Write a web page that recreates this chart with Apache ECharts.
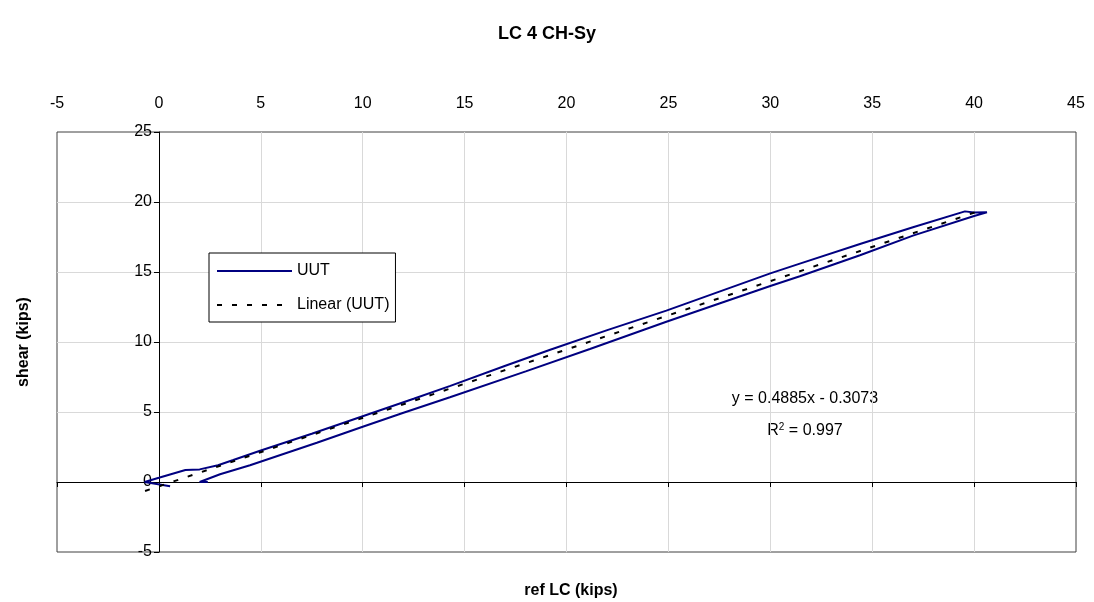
<!DOCTYPE html>
<html>
<head>
<meta charset="utf-8">
<script src="https://cdn.jsdelivr.net/npm/echarts@6/dist/echarts.min.js"></script>
<style>html,body{margin:0;padding:0;background:#fff;}#c{width:1094px;height:602px;}</style>
</head>
<body>
<div id="c"></div>
<script>
// UUT loop: start tail, upper branch up to tip, lower branch back down
var uutX = [0.55, -0.7, 0.0, 1.3, 2.0, 2.9, 3.65, 5.0, 7.5, 10.0, 12.5, 14.3, 17.0, 19.2, 22.0, 24.9, 27.5, 30.0, 31.45, 34.4, 37.0, 39.55, 40.0, 40.63,
            40.0, 37.0, 34.4, 31.45, 30.0, 27.5, 24.9, 21.15, 18.0, 14.28, 12.0, 10.0, 7.75, 6.0, 4.47, 3.0, 2.0, 2.4];
var uutY = [-0.3, 0.0, 0.3, 0.86, 0.9, 1.2, 1.57, 2.25, 3.45, 4.7, 5.95, 6.87, 8.3, 9.45, 10.85, 12.24, 13.6, 14.9, 15.6, 17.0, 18.2, 19.33, 19.25, 19.26,
            19.0, 17.6, 16.2, 14.7, 14.0, 12.75, 11.45, 9.5, 7.9, 6.05, 4.95, 3.95, 2.8, 1.95, 1.2, 0.55, 0.0, 0.0];
var trendX = [-0.68, 40.3];
var trendY = [-0.64, 19.38];
var xTicks = [-5, 45, 5];
var yTicks = [-5, 25, 5];
var eqText = 'y = 0.4885x - 0.3073';
var r2Value = '0.997';

function pairs(xs, ys) { return xs.map(function (x, i) { return [x, ys[i]]; }); }

var chart = echarts.init(document.getElementById('c'));
var font = 'Liberation Sans, Arial, sans-serif';
chart.setOption({
  animation: false,
  backgroundColor: '#fff',
  textStyle: { fontFamily: font },
  title: [{
    text: 'LC 4 CH-Sy', left: 'center', top: 20,
    textStyle: { fontSize: 18, fontWeight: 'bold', color: '#000', fontFamily: font }
  }, {
    text: 'ref LC (kips)', left: 566, top: 578, textAlign: 'center',
    textStyle: { fontSize: 16, fontWeight: 'bold', color: '#000', fontFamily: font }
  }],
  graphic: [{
    type: 'text', x: 24, y: 342, rotation: Math.PI / 2,
    style: { text: 'shear (kips)', font: 'bold 16px ' + font, fill: '#000', textAlign: 'center', textVerticalAlign: 'middle' }
  }, {
    type: 'text', x: 805, y: 399,
    style: { text: eqText, font: '16px ' + font, fill: '#000', textAlign: 'center', textVerticalAlign: 'middle' }
  }, {
    type: 'text', x: 805, y: 431,
    style: {
      text: '{a|R}{s|2}{a| = ' + r2Value + '}', textAlign: 'center', textVerticalAlign: 'middle',
      rich: {
        a: { fontSize: 16, fontFamily: font, color: '#000' },
        s: { fontSize: 10, fontFamily: font, color: '#000', verticalAlign: 'top', padding: [0, 0, 8, 0] }
      }
    }
  }],
  legend: {
    orient: 'vertical', left: 209, top: 253,
    backgroundColor: '#fff', borderColor: '#000', borderWidth: 1,
    padding: [10, 6, 9, 7], itemWidth: 75, itemHeight: 14, itemGap: 18,
    itemStyle: { opacity: 0 },
    textStyle: { fontSize: 16, color: '#000', fontFamily: font },
    data: ['UUT', 'Linear (UUT)']
  },
  grid: { left: 57, right: 18, top: 132, bottom: 50, show: true, borderColor: '#404040', borderWidth: 1, containLabel: false },
  xAxis: [{
    type: 'value', min: xTicks[0], max: xTicks[1], interval: xTicks[2], position: 'top',
    axisLine: { show: false, onZero: false }, axisTick: { show: false },
    axisLabel: { fontSize: 16, color: '#000', margin: 20, fontFamily: font },
    splitLine: { show: true, showMinLine: false, showMaxLine: false, lineStyle: { color: '#d9d9d9', width: 1 } }
  }, {
    type: 'value', min: xTicks[0], max: xTicks[1], interval: xTicks[2], position: 'bottom',
    axisLine: { show: true, onZero: true, lineStyle: { color: '#000', width: 1 } },
    axisTick: { show: true, length: 5, lineStyle: { color: '#000' } },
    axisLabel: { show: false }, splitLine: { show: false }
  }],
  yAxis: {
    type: 'value', min: yTicks[0], max: yTicks[1], interval: yTicks[2], position: 'left', offset: -102,
    axisLine: { show: true, onZero: false, lineStyle: { color: '#000', width: 1 } },
    axisTick: { show: true, length: 5, lineStyle: { color: '#000' } },
    axisLabel: { fontSize: 16, color: '#000', margin: 7, fontFamily: font },
    splitLine: { show: true, showMinLine: false, showMaxLine: false, lineStyle: { color: '#d9d9d9', width: 1 } }
  },
  series: [{
    name: 'UUT', type: 'line', xAxisIndex: 0, data: pairs(uutX, uutY),
    symbol: 'none', smooth: false,
    lineStyle: { color: '#000080', width: 2 }, itemStyle: { color: '#000080' }
  }, {
    name: 'Linear (UUT)', type: 'line', xAxisIndex: 0, data: pairs(trendX, trendY),
    symbol: 'none',
    lineStyle: { color: '#000', width: 2, type: [5, 10] }, itemStyle: { color: '#000' }
  }]
});
</script>
</body>
</html>
